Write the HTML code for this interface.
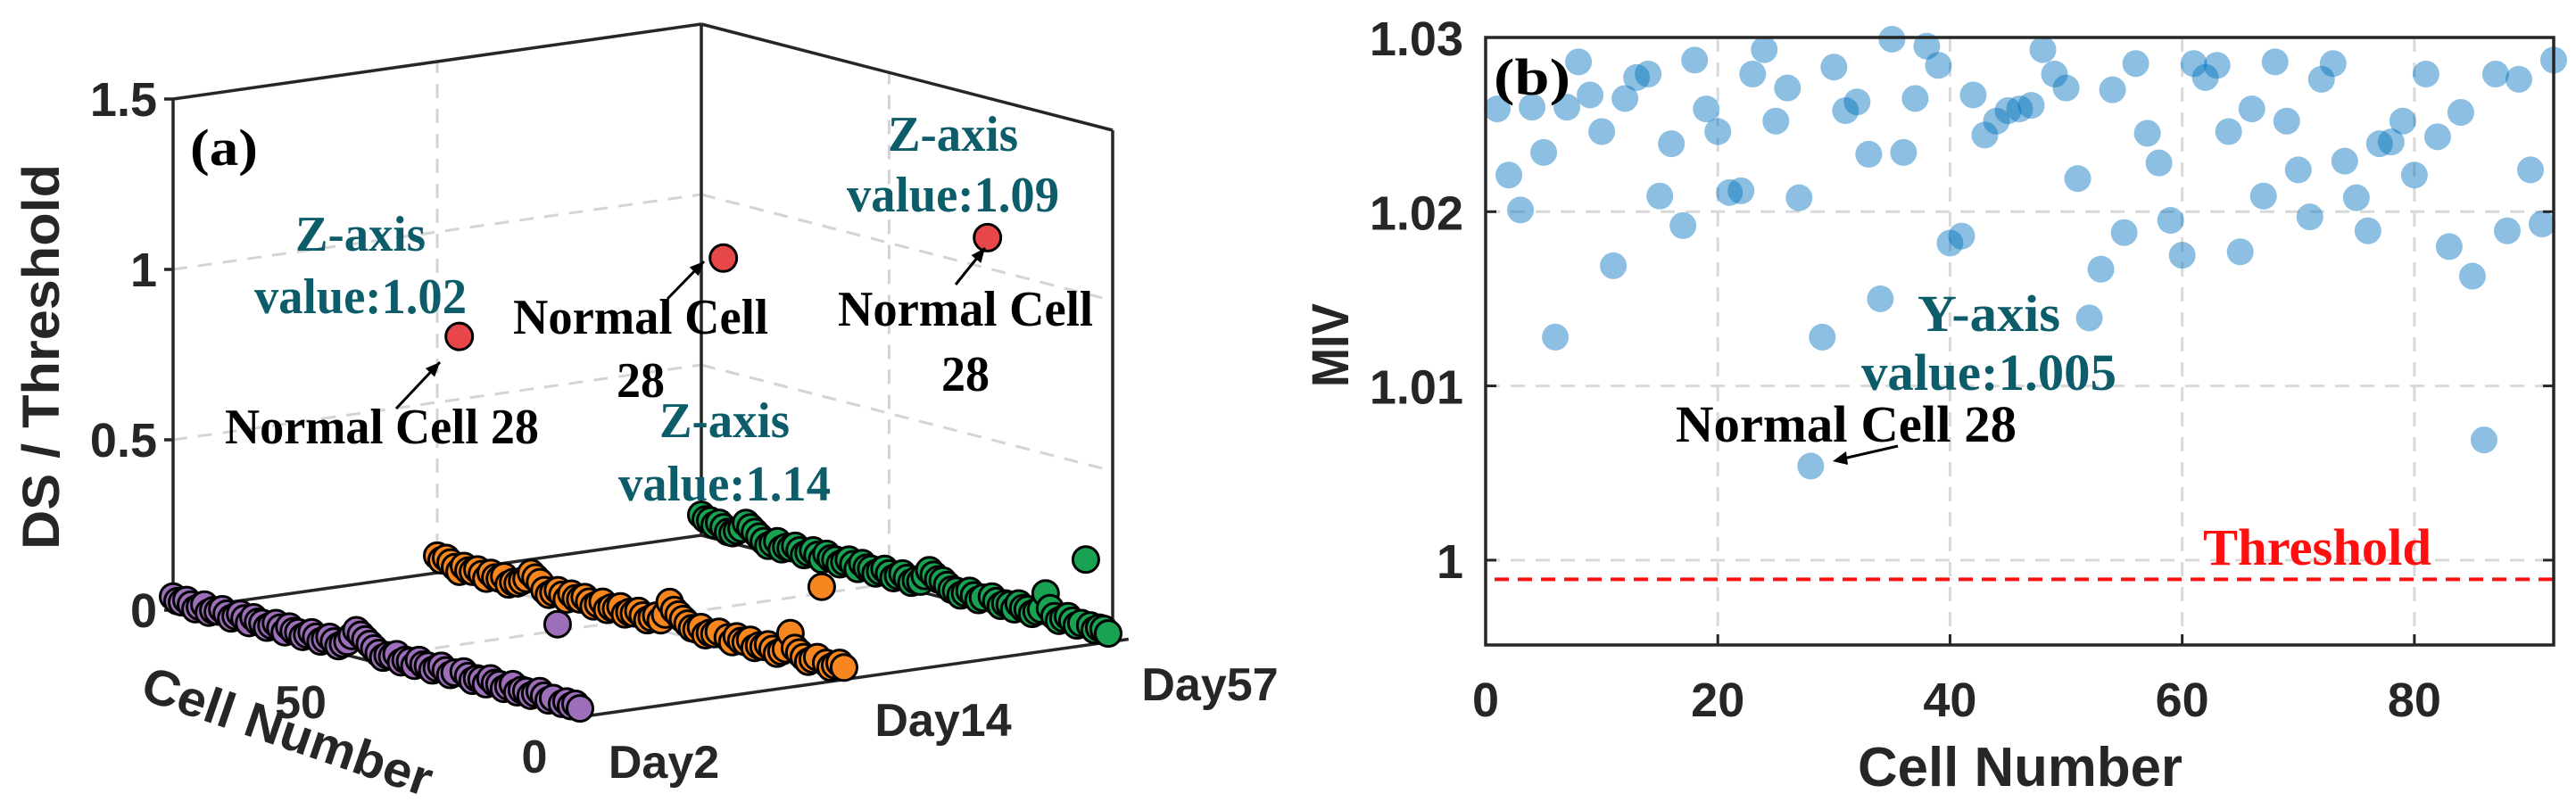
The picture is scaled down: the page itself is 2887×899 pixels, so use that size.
<!DOCTYPE html>
<html><head><meta charset="utf-8"><style>
html,body{margin:0;padding:0;background:#fff;}
svg{display:block;}
</style></head><body>
<svg id="fig" width="2887" height="899" viewBox="0 0 2887 899" xmlns="http://www.w3.org/2000/svg" font-family="'Liberation Sans', sans-serif">
<g id="left"></g>
<g id="right"></g>
</svg>
<script>
// ---------- Panel (a) data ----------
const dayLabels = ["Day2","Day14","Day57"];
const zTicks = [0,0.5,1,1.5];
const zTickLabels = ["0","0.5","1","1.5"];
const cellTicks = [0,50];
const day2Values = [0.02,0.03,0.02,0.03,0.02,0.25,0.03,0.02,0.03,0.04,
0.03,0.02,0.03,0.03,0.02,0.04,0.03,0.02,0.03,0.03,
0.04,0.02,0.03,0.03,0.02,0.03,0.04,1.02,0.03,0.02,
0.03,0.04,0.03,0.02,0.03,0.03,0.04,0.02,0.03,0.03,
0.02,0.04,0.03,0.03,0.02,0.03,0.04,0.05,0.06,0.07,
0.08,0.06,0.04,0.03,0.02,0.03,0.04,0.03,0.02,0.03,
0.04,0.03,0.02,0.03,0.03,0.04,0.02,0.03,0.04,0.03,
0.02,0.03,0.03,0.04,0.02,0.03,0.04,0.03,0.02,0.03,
0.04,0.03,0.03,0.02,0.04,0.03,0.02,0.03,0.04,0.03,
0.03,0.04];
const day14Values = [0.03,0.04,0.03,0.02,0.03,0.25,0.04,0.03,0.02,0.03,
0.04,0.05,0.09,0.04,0.03,0.02,0.03,0.04,0.03,0.03,
0.02,0.04,0.03,0.03,0.04,0.02,0.03,1.14,0.04,0.03,
0.03,0.02,0.04,0.03,0.03,0.04,0.05,0.06,0.07,0.09,
0.05,0.03,0.04,0.03,0.02,0.03,0.04,0.03,0.03,0.02,
0.04,0.03,0.03,0.02,0.04,0.03,0.02,0.03,0.04,0.03,
0.03,0.04,0.02,0.03,0.04,0.03,0.02,0.03,0.05,0.06,
0.07,0.05,0.04,0.03,0.03,0.02,0.04,0.03,0.03,0.04,
0.02,0.03,0.04,0.03,0.03,0.04,0.02,0.03,0.04,0.05,
0.04,0.05];
const day57Values = [0.02,0.03,0.03,0.02,0.03,0.22,0.03,0.02,0.03,0.04,
0.03,0.02,0.03,0.05,0.09,0.04,0.03,0.02,0.03,0.03,
0.04,0.02,0.03,0.03,0.02,0.03,0.04,1.09,0.03,0.02,
0.03,0.04,0.03,0.02,0.03,0.03,0.04,0.05,0.05,0.06,
0.07,0.05,0.03,0.03,0.02,0.03,0.04,0.03,0.02,0.03,
0.04,0.03,0.02,0.03,0.03,0.04,0.02,0.03,0.04,0.03,
0.02,0.03,0.03,0.04,0.02,0.03,0.04,0.03,0.02,0.03,
0.04,0.03,0.03,0.02,0.04,0.03,0.02,0.03,0.04,0.05,
0.06,0.07,0.05,0.04,0.03,0.03,0.04,0.05,0.04,0.05,
0.05,0.06];
const highlightCell = 28;

// ---------- Panel (b) data ----------
const mivValues = [1.0259,1.0221,1.0201,1.0260,1.0234,1.0128,1.0260,1.0286,1.0267,1.0246,
1.0169,1.0265,1.0277,1.0279,1.0209,1.0239,1.0192,1.0287,1.0259,1.0246,
1.0211,1.0212,1.0279,1.0293,1.0252,1.0271,1.0208,1.0054,1.0128,1.0283,
1.0258,1.0263,1.0233,1.0150,1.0299,1.0234,1.0265,1.0295,1.0284,1.0182,
1.0186,1.0267,1.0244,1.0252,1.0258,1.0259,1.0261,1.0293,1.0279,1.0271,
1.0219,1.0139,1.0167,1.0270,1.0188,1.0285,1.0245,1.0228,1.0195,1.0175,
1.0285,1.0277,1.0284,1.0246,1.0177,1.0259,1.0209,1.0286,1.0252,1.0224,
1.0197,1.0276,1.0285,1.0229,1.0208,1.0189,1.0239,1.0240,1.0252,1.0221,
1.0279,1.0243,1.0180,1.0257,1.0163,1.0069,1.0279,1.0189,1.0276,1.0224,
1.0193,1.0287];
const xTicksB = [0,20,40,60,80];
const yTicksB = [1,1.01,1.02,1.03];
const yTickLabelsB = ["1","1.01","1.02","1.03"];
const thresholdB = [0.9989];

const NS = "http://www.w3.org/2000/svg";
function mk(tag, attrs, parent){
  const e = document.createElementNS(NS, tag);
  for (const k in attrs) e.setAttribute(k, attrs[k]);
  parent.appendChild(e);
  return e;
}
const L = document.getElementById('left');
const R = document.getElementById('right');

// ===== Panel (a): 3D projection =====
const NMAX = 92;
const dayPos = [0, 0.5, 1.0];
function P(n, d, z){
  return [655 + n*(-461/NMAX) + d*592, 803 + n*(-119/NMAX) + d*(-84) - z*382];
}
function line(parent, a, b, attrs){ return mk('line', Object.assign({x1:a[0],y1:a[1],x2:b[0],y2:b[1]}, attrs), parent); }

const grid = {stroke:'#d4d4d4','stroke-width':3,'stroke-dasharray':'16 12',fill:'none'};
zTicks.slice(1,3).forEach(z => {
  const g = line(L, P(NMAX,0,z), P(NMAX,1,z), grid);
  
  
  const g2 = line(L, P(NMAX,1,z), P(0,1,z), grid);
  
  
});
{
  const g = line(L, P(NMAX,0.5,0), P(NMAX,0.5,1.5), grid);
  
  
  const g2 = line(L, P(50,1,0), P(50,1,1.5), grid);
  
  
  const g3 = line(L, P(50,0,0), P(50,1,0), grid);
  
  
  const g4 = line(L, P(0,0.5,0), P(NMAX,0.5,0), grid);
  
  
}
const edge = {stroke:'#262626','stroke-width':3.5,fill:'none'};
[[P(NMAX,0,0),P(NMAX,0,1.5)],[P(NMAX,1,0),P(NMAX,1,1.5)],[P(0,1,0),P(0,1,1.5)],
 [P(NMAX,0,1.5),P(NMAX,1,1.5)],[P(NMAX,1,1.5),P(0,1,1.5)],
 [P(NMAX,0,0),P(NMAX,1,0)],[P(NMAX,1,0),P(0,1,0)],[P(0,0,0),P(0,1.03,0)],[P(0,0,0),P(NMAX,0,0)]].forEach(s=>{
  const e = line(L, s[0], s[1], edge);
  
  
});
zTicks.forEach((z,i)=>{
  const p = P(NMAX,0,z);
  const t = line(L, [p[0]-10,p[1]], p, edge);
  
  
  const tx = mk('text',{x:p[0]-18,y:p[1]+19,'text-anchor':'end','font-size':54,'font-weight':'bold',fill:'#262626'},L);
  
  
  tx.textContent = zTickLabels[i];
});

const colors = ['#9d6fba','#f7861f','#18a251'];
const series = [day2Values, day14Values, day57Values];
const names = ['day2','day14','day57'];
for (let s = 2; s >= 0; s--){
  const g = mk('g',{},L);
  
  
  const vals = series[s];
  for (let i = vals.length-1; i >= 0; i--){
    const cell = i+1;
    const p = P(cell, dayPos[s], vals[i]);
    const isH = cell === highlightCell;
    const c = mk('circle',{cx:p[0],cy:p[1],r:isH?15:14.5,fill:isH?'#e8474a':colors[s],stroke:'#000','stroke-width':3},g);
    
    
  }
}
</script>
<script>
(function(){
const L = document.getElementById('left');
const NS = "http://www.w3.org/2000/svg";
function t(x,y,str,size,fill,name,family,anchor,len,weight){
  const e = document.createElementNS(NS,'text');
  e.setAttribute('x',x); e.setAttribute('y',y);
  e.setAttribute('font-size',size); e.setAttribute('fill',fill);
  e.setAttribute('text-anchor',anchor||'middle');
  e.setAttribute('font-weight',weight||'bold');
  if (family) e.setAttribute('font-family',family);
  if (len){ e.setAttribute('textLength',len); e.setAttribute('lengthAdjust','spacingAndGlyphs'); }
  
  
  e.textContent = str;
  L.appendChild(e);
  return e;
}
const serif = "'Liberation Serif', serif";
const teal = '#0c5c6a';
t(251,185,'(a)',58,'#000','panel-label-a',serif,'middle',76);
t(404,281,'Z-axis',56,teal,'annotation-day2-z-axis',serif,'middle',146);
t(404,351,'value:1.02',56,teal,'annotation-day2-value',serif,'middle',238);
t(428,497,'Normal Cell 28',56,'#000','annotation-day2-normal-cell',serif,'middle',352);
t(718,374,'Normal Cell',56,'#000','annotation-day14-normal-cell',serif,'middle',286);
t(718,445,'28',56,'#000','annotation-day14-cell-number',serif,'middle',54);
t(812,490,'Z-axis',56,teal,'annotation-day14-z-axis',serif,'middle',146);
t(812,561,'value:1.14',56,teal,'annotation-day14-value',serif,'middle',238);
t(1068,169,'Z-axis',56,teal,'annotation-day57-z-axis',serif,'middle',146);
t(1068,237,'value:1.09',56,teal,'annotation-day57-value',serif,'middle',238);
t(1082,365,'Normal Cell',56,'#000','annotation-day57-normal-cell',serif,'middle',286);
t(1082,438,'28',56,'#000','annotation-day57-cell-number',serif,'middle',54);
function arrow(x1,y1,x2,y2,name){
  const g = document.createElementNS(NS,'g');
   
  const ln = document.createElementNS(NS,'line');
  ln.setAttribute('x1',x1);ln.setAttribute('y1',y1);ln.setAttribute('x2',x2);ln.setAttribute('y2',y2);
  ln.setAttribute('stroke','#000');ln.setAttribute('stroke-width',3);
  g.appendChild(ln);
  const a = Math.atan2(y2-y1,x2-x1), h=16, w=7;
  const bx = x2-h*Math.cos(a), by = y2-h*Math.sin(a);
  const pg = document.createElementNS(NS,'polygon');
  pg.setAttribute('points',`${x2},${y2} ${bx+w*Math.sin(a)},${by-w*Math.cos(a)} ${bx-w*Math.sin(a)},${by+w*Math.cos(a)}`);
  pg.setAttribute('fill','#000');
  g.appendChild(pg);
  L.appendChild(g);
}
arrow(444,458,493,406,'arrow-day2');
arrow(748,335,789,293,'arrow-day14');
arrow(1071,319,1104,278,'arrow-day57');
const yl = t(0,0,'DS / Threshold',58,'#262626','z-axis-title',null,'middle',432);
yl.setAttribute('transform','translate(66,400) rotate(-90)');
const cl = t(0,0,'Cell Number',56,'#262626','cell-axis-title',null,'middle',340);
cl.setAttribute('transform','translate(316,838) rotate(19)');
t(337,805,'50',52,'#262626','cell-tick-label-50');
t(599,866,'0',52,'#262626','cell-tick-label-0');
t(744,872,'Day2',52,'#262626','day-tick-label-day2');
t(1057,825,'Day14',52,'#262626','day-tick-label-day14');
t(1356,785,'Day57',52,'#262626','day-tick-label-day57');
})();
</script>
<script>
(function(){
const R = document.getElementById('right');
const NS = "http://www.w3.org/2000/svg";
const X0=1665, X1=2862, Y0=42, Y1=723;
const xmin=0, xmax=92, ymin=0.99513, ymax=1.03;
const sx = v => X0 + (v-xmin)/(xmax-xmin)*(X1-X0);
const sy = v => Y1 - (v-ymin)/(ymax-ymin)*(Y1-Y0);
function mk(tag, attrs){ const e=document.createElementNS(NS,tag); for(const k in attrs) e.setAttribute(k,attrs[k]); R.appendChild(e); return e; }
const grid = {stroke:'#d9d9d9','stroke-width':3,'stroke-dasharray':'16 12'};
xTicksB.slice(1).forEach(v=>{
  const g = mk('line',Object.assign({x1:sx(v),x2:sx(v),y1:Y0,y2:Y1},grid));
  
  
});
yTicksB.forEach(v=>{
  const g = mk('line',Object.assign({x1:X0,x2:X1,y1:sy(v),y2:sy(v)},grid));
  
  
});
const th = mk('line',{x1:X0+10,x2:X1,y1:sy(thresholdB[0]),y2:sy(thresholdB[0]),stroke:'#ff1010','stroke-width':4,'stroke-dasharray':'16 10'});


const pg = mk('g',{});


mivValues.forEach((v,i)=>{
  const c = document.createElementNS(NS,'circle');
  c.setAttribute('cx',sx(i+1)); c.setAttribute('cy',sy(v)); c.setAttribute('r',15);
  c.setAttribute('fill','#0072bd'); c.setAttribute('fill-opacity','0.45');
  
  
  pg.appendChild(c);
});
const box = mk('rect',{x:X0,y:Y0,width:X1-X0,height:Y1-Y0,fill:'none',stroke:'#262626','stroke-width':3.5});


xTicksB.forEach(v=>{
  const tk = mk('line',{x1:sx(v),x2:sx(v),y1:Y1,y2:Y1-12,stroke:'#262626','stroke-width':3});
  
  
  const tx = mk('text',{x:sx(v),y:803,'text-anchor':'middle','font-size':54,'font-weight':'bold',fill:'#262626'});
  
  
  tx.textContent = String(v);
});
yTicksB.forEach((v,i)=>{
  const tk = mk('line',{x1:X0,x2:X0+12,y1:sy(v),y2:sy(v),stroke:'#262626','stroke-width':3});
  
  
  const tk2 = mk('line',{x1:X1,x2:X1-12,y1:sy(v),y2:sy(v),stroke:'#262626','stroke-width':3});
  
  
  const tx = mk('text',{x:1640,y:sy(v)+20,'text-anchor':'end','font-size':54,'font-weight':'bold',fill:'#262626'});
  
  
  tx.textContent = yTickLabelsB[i];
});
function t(x,y,str,size,fill,name,family,len){
  const e = mk('text',{x:x,y:y,'text-anchor':'middle','font-size':size,'font-weight':'bold',fill:fill});
  if (family) e.setAttribute('font-family',family);
  if (len){ e.setAttribute('textLength',len); e.setAttribute('lengthAdjust','spacingAndGlyphs'); }
  
  
  e.textContent = str;
  return e;
}
const serif = "'Liberation Serif', serif";
t(2264,881,'Cell Number',62,'#262626','x-axis-title',null,364);
const ml = t(0,0,'MIV',58,'#262626','y-axis-title',null,94);
ml.setAttribute('transform','translate(1511,387) rotate(-90)');
t(1717,106,'(b)',58,'#000','panel-label-b',serif,86);
t(2229,371,'Y-axis',58,'#0c5c6a','annotation-y-axis',serif,160);
t(2229,437,'value:1.005',58,'#0c5c6a','annotation-y-value',serif,286);
t(2069,495,'Normal Cell 28',58,'#000','annotation-normal-cell-28',serif,382);
t(2597,633,'Threshold',58,'#ff1010','threshold-label',serif,256);
const ln = mk('line',{x1:2127,y1:500,x2:2066,y2:514,stroke:'#000','stroke-width':3});


const ah = mk('polygon',{points:'2054,517 2069,506 2071,521',fill:'#000'});


})();
</script>
</body></html>
